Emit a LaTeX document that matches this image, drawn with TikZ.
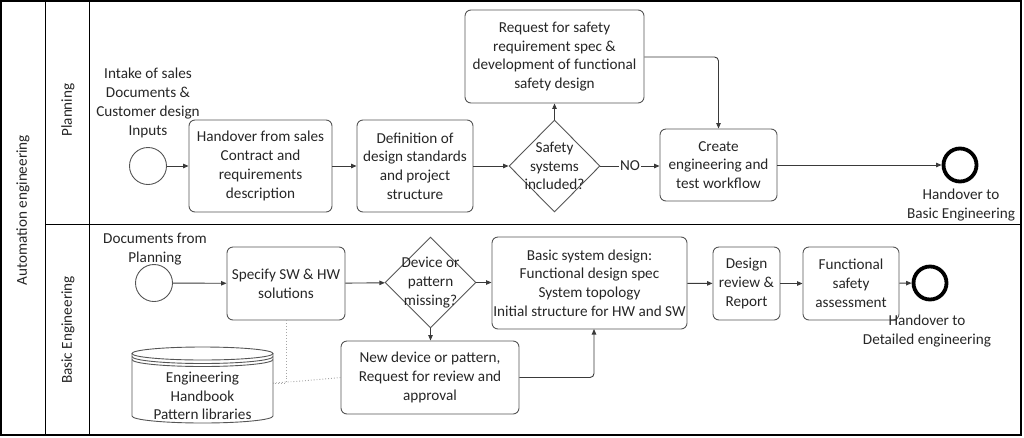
\documentclass[tikz,border=0pt]{standalone}
\usepackage{fontspec}
\setmainfont{Carlito}
\usetikzlibrary{arrows.meta,shapes.geometric}
\definecolor{boxc}{HTML}{555555}
\definecolor{linec}{HTML}{3A3A3A}
\definecolor{txtc}{HTML}{262626}
\begin{document}
\begin{tikzpicture}[x=1pt,y=-1pt,
  every node/.style={text=txtc,font=\fontsize{15.2}{18.8}\selectfont,align=center,inner sep=0pt},
  taskbox/.style={draw=boxc,line width=0.9pt,rounded corners=6pt},
  gate/.style={draw=boxc,line width=0.9pt,diamond,minimum width=91pt,minimum height=91pt},
  startev/.style={draw=boxc,line width=0.9pt,circle,minimum size=37pt},
  endev/.style={draw=black,line width=3.8pt,circle,minimum size=33pt},
  flow/.style={draw=linec,line width=0.9pt,rounded corners=4pt,-{Triangle[length=5.5pt,width=4.5pt]}},
  assoc/.style={draw=gray!70,line width=0.9pt,dotted},
  lane/.style={draw=black,line width=0.9pt}]
\useasboundingbox (0,0) rectangle (1024,437);
% pool and lanes
\draw[lane,line width=1.4pt] (1,1) rectangle (1021,435);
\draw[lane] (45,1) -- (45,435);
\draw[lane] (89,1) -- (89,435);
\draw[lane] (45,224) -- (1021,224);
\node[rotate=90] (pool) at (23,210) {Automation engineering};
\node[rotate=90] (lplan) at (68,110) {Planning};
\node[rotate=90] (lbasic) at (68,330) {Basic Engineering};
% planning lane
\node[startev] (s1) at (148,166) {};
\node (s1l) at (148,103) {Intake of sales\\Documents \&\\Customer design\\Inputs};
\node[taskbox,minimum width=143pt,minimum height=92pt] (hand) at (260.5,166) {Handover from sales\\Contract and\\requirements\\description};
\node[taskbox,minimum width=116pt,minimum height=92pt] (defn) at (415,166) {Definition of\\design standards\\and project\\structure};
\node[gate,minimum height=92pt] (g1) at (554.5,166) {};
\node (g1l) at (554.5,166) {Safety\\systems\\included?};
\node[taskbox,minimum width=179pt,minimum height=93pt] (req) at (554.5,56.5) {Request for safety\\requirement spec \&\\development of functional\\safety design};
\node[taskbox,minimum width=117pt,minimum height=72pt] (crt) at (718.5,165) {Create\\engineering and\\test workflow};
\node[endev] (e1) at (960,165) {};
\node (e1l) at (961,205) {Handover to\\Basic Engineering};
\draw[flow] (s1) -- (hand);
\draw[flow] (hand) -- (defn);
\draw[flow] (defn) -- (g1);
\draw[flow] (g1) -- node[fill=white,inner xsep=1pt] (nol) {NO} (crt.west |- g1);
\draw[flow] (g1.north) -- (req.south);
\draw[flow] (req.east |- 0,57) -- (crt.north |- 0,57) -- (crt.north);
\draw[flow] (crt) -- (e1);
% basic engineering lane
\node[startev] (s2) at (154,283) {};
\node (s2l) at (155,249) {Documents from\\Planning};
\node[taskbox,minimum width=118pt,minimum height=73pt] (spec) at (286,283.5) {Specify SW \& HW\\solutions};
\node[gate] (g2) at (430.5,282.5) {};
\node (g2l) at (430.5,282.5) {Device or\\pattern\\missing?};
\node[taskbox,minimum width=195pt,minimum height=92pt] (bsd) at (589.5,283) {Basic system design:\\Functional design spec\\System topology\\Initial structure for HW and SW};
\node[taskbox,minimum width=67pt,minimum height=73pt] (drv) at (746.5,283.5) {Design\\review \&\\Report};
\node[taskbox,minimum width=96pt,minimum height=73pt] (fsa) at (851,283.5) {Functional\\safety\\assessment};
\node[endev] (e2) at (930,283) {};
\node (e2l) at (927,331) {Handover to\\Detailed engineering};
\node[taskbox,minimum width=178pt,minimum height=73pt] (nd) at (430,377.5) {New device or pattern,\\Request for review and\\approval};
% data store
\draw[draw=boxc,line width=0.9pt,fill=white] (132,353.5) -- (132,416) arc[start angle=180,end angle=360,x radius=70.5pt,y radius=7pt] -- (273,353.5);
\draw[draw=boxc,line width=0.9pt] (202.5,353.5) ellipse [x radius=70.5pt,y radius=6.5pt];
\draw[draw=boxc,line width=0.9pt] (132,356.5) arc[start angle=180,end angle=360,x radius=70.5pt,y radius=7pt];
\draw[draw=boxc,line width=0.9pt] (132,359.5) arc[start angle=180,end angle=360,x radius=70.5pt,y radius=7pt];
\node (db) at (202.5,396) {Engineering\\Handbook\\Pattern libraries};
\coordinate (dbE) at (273,383);
% connectors
\draw[flow] (s2) -- (spec);
\draw[flow] (spec) -- (g2);
\draw[flow] (g2) -- (bsd.west |- g2);
\draw[flow] (g2.south) -- (nd.north -| g2.south);
\draw[flow] (nd.east) -- (594,377.5) -- (594,329);
\draw[flow] (bsd) -- (drv);
\draw[flow] (drv) -- (fsa);
\draw[flow] (fsa) -- (e2);
\draw[assoc] (spec.south) -- (286,383) -- (dbE);
\draw[assoc] (nd.west) -- (302,381) -- (dbE);
\end{tikzpicture}
\end{document}
